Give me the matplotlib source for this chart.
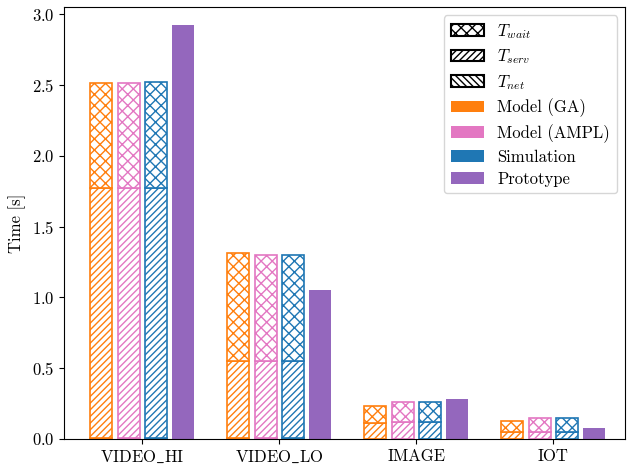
import numpy as np
import matplotlib
matplotlib.use('Agg')
import matplotlib.pyplot as plt
from matplotlib.patches import Patch

plt.rcParams['font.family'] = 'serif'
plt.rcParams['font.serif'] = ['cmr10']
plt.rcParams['mathtext.fontset'] = 'cm'
plt.rcParams['axes.formatter.use_mathtext'] = True
plt.rcParams['hatch.linewidth'] = 1.0
plt.rcParams['font.size'] = 12

labels = [r'VIDEO$\_$HI', r'VIDEO$\_$LO', 'IMAGE', 'IOT']

# T_net, T_serv, T_wait per model
ga_net = [0.01, 0.005, 0.003, 0.003]
ga_serv = [1.76, 0.545, 0.107, 0.047]
ga_wait = [0.74, 0.76, 0.12, 0.08]

ampl_net = [0.01, 0.005, 0.003, 0.003]
ampl_serv = [1.76, 0.545, 0.117, 0.047]
ampl_wait = [0.74, 0.75, 0.14, 0.10]

sim_net = [0.01, 0.005, 0.003, 0.003]
sim_serv = [1.76, 0.545, 0.117, 0.047]
sim_wait = [0.75, 0.75, 0.14, 0.10]

prototype = [2.92, 1.05, 0.28, 0.08]

colors = {'ga': '#ff7f0e', 'ampl': '#e377c2', 'sim': '#1f77b4', 'proto': '#9467bd'}

x = np.arange(len(labels))
w = 0.16
fig, ax = plt.subplots(figsize=(6.29, 4.66), dpi=100)

def stacked(pos, net, serv, wait, c):
    net = np.array(net); serv = np.array(serv); wait = np.array(wait)
    ax.bar(pos, net, w, facecolor='white', edgecolor=c, hatch='\\\\\\\\\\', linewidth=1.2)
    ax.bar(pos, serv, w, bottom=net, facecolor='white', edgecolor=c, hatch='/////', linewidth=1.2)
    ax.bar(pos, wait, w, bottom=net + serv, facecolor='white', edgecolor=c, hatch='xxx', linewidth=1.2)

stacked(x - 0.3, ga_net, ga_serv, ga_wait, colors['ga'])
stacked(x - 0.1, ampl_net, ampl_serv, ampl_wait, colors['ampl'])
stacked(x + 0.1, sim_net, sim_serv, sim_wait, colors['sim'])
ax.bar(x + 0.3, prototype, w, color=colors['proto'])

ax.set_xticks(x)
ax.set_xticklabels(labels)
ax.set_ylabel('Time [s]')
ax.set_ylim(0, 3.05)
ax.set_xlim(-0.57, 3.525)

handles = [
    Patch(facecolor='white', edgecolor='black', hatch='xxx', linewidth=1.5, label='$T_{wait}$'),
    Patch(facecolor='white', edgecolor='black', hatch='/////', linewidth=1.5, label='$T_{serv}$'),
    Patch(facecolor='white', edgecolor='black', hatch='\\\\\\\\\\', linewidth=1.5, label='$T_{net}$'),
    Patch(facecolor=colors['ga'], label='Model (GA)'),
    Patch(facecolor=colors['ampl'], label='Model (AMPL)'),
    Patch(facecolor=colors['sim'], label='Simulation'),
    Patch(facecolor=colors['proto'], label='Prototype'),
]
ax.legend(handles=handles, loc='upper right', fontsize=12, labelspacing=0.4)

fig.subplots_adjust(left=0.102, right=0.994, top=0.985, bottom=0.058)
plt.savefig('out.png', dpi=100)
